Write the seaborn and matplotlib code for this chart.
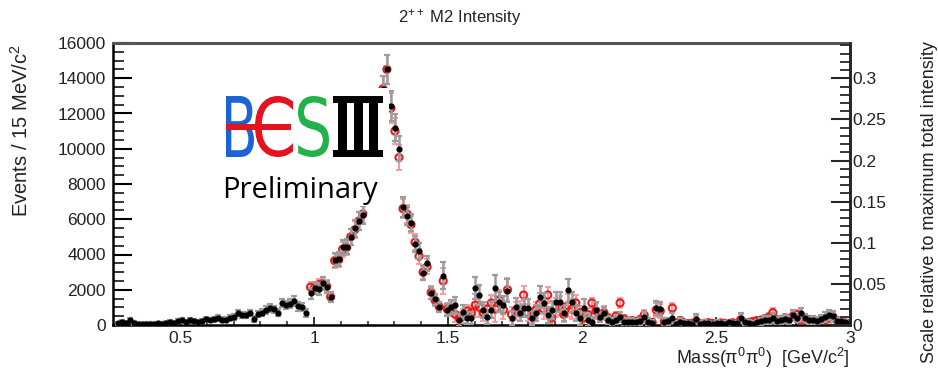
import numpy as np
import pandas as pd
import matplotlib
matplotlib.use("Agg")
import matplotlib.pyplot as plt
import seaborn as sns
from matplotlib.ticker import MultipleLocator, FixedLocator
from matplotlib.textpath import TextPath
from matplotlib.font_manager import FontProperties
from matplotlib.patches import PathPatch, Rectangle
from matplotlib.transforms import Affine2D, IdentityTransform

# ---------------- data ----------------
mass_start = 0.267   # GeV, centre of first bin
bin_width = 0.015    # GeV (15 MeV bins)

events_black = [
    90, 170, 130, 260, 110, 70, 50, 80, 60, 70,
    90, 60, 100, 170, 130, 230, 280, 180, 260, 220,
    160, 210, 340, 280, 330, 400, 310, 290, 420, 450,
    680, 570, 580, 680, 340, 620, 700, 850, 960, 880,
    700, 1250, 1130, 1200, 1360, 1050, 1000, 700, 1800, 2100,
    2050, 2400, 2150, 1600, 3700, 3750, 4400, 4450, 5000, 5500,
    5900, 6250, 7400, 8800, 10000, 11500, 13400, 14500, 12400, 11200,
    10000, 6700, 6200, 5800, 4600, 4200, 2950, 3500, 1800, 1450,
    1020, 2800, 850, 1020, 1130, 280, 740, 400, 400, 2100,
    1700, 850, 450, 850, 2100, 1300, 1130, 1950, 400, 1020,
    680, 960, 960, 400, 680, 1590, 1250, 570, 850, 1300,
    1300, 680, 1980, 1300, 680, 400, 960, 280, 170, 850,
    450, 680, 280, 170, 280, 450, 170, 170, 170, 150,
    200, 450, 170, 120, 960, 900, 170, 200, 400, 50,
    170, 130, 100, 60, 340, 80, 120, 100, 60, 120,
    90, 80, 150, 110, 100, 400, 170, 120, 80, 150,
    200, 280, 300, 400, 250, 300, 350, 300, 570, 400,
    680, 400, 280, 300, 250, 350, 450, 570, 500, 250,
    200, 150, 100,
]

err_black = [
    100, 110, 100, 120, 100, 90, 90, 90, 90, 90,
    90, 90, 100, 110, 100, 120, 120, 110, 120, 110,
    110, 120, 140, 130, 140, 150, 140, 140, 150, 160,
    180, 170, 170, 180, 160, 180, 190, 200, 220, 210,
    200, 250, 240, 250, 260, 240, 230, 220, 300, 330,
    320, 350, 330, 300, 400, 400, 420, 430, 450, 480,
    500, 520, 580, 620, 660, 700, 720, 800, 850, 750,
    700, 550, 500, 480, 450, 430, 380, 420, 350, 300,
    280, 750, 350, 400, 450, 350, 400, 350, 350, 650,
    550, 450, 400, 450, 750, 550, 500, 650, 400, 500,
    450, 500, 500, 400, 450, 600, 550, 450, 500, 550,
    550, 450, 650, 550, 450, 400, 500, 350, 300, 450,
    300, 350, 250, 200, 250, 300, 200, 200, 200, 180,
    200, 300, 200, 180, 400, 400, 200, 220, 300, 150,
    200, 180, 150, 130, 300, 130, 150, 140, 120, 150,
    130, 120, 150, 140, 130, 300, 180, 150, 130, 160,
    180, 220, 230, 260, 200, 220, 240, 220, 300, 250,
    300, 250, 200, 220, 200, 240, 260, 300, 280, 200,
    180, 150, 130,
]

# second solution: not visible below ~1 GeV (hidden under the black points)
N = np.nan
events_red = [
    N, N, N, N, N, N, N, N, N, N,
    N, N, N, N, N, N, N, N, N, N,
    N, N, N, N, N, N, N, N, N, N,
    N, N, N, N, N, N, N, N, N, N,
    N, N, N, N, N, N, N, N, 2150, 2100,
    2300, 2350, 2200, 1600, 3650, 3700, 4300, 4400, 5000, 5400,
    5900, 6300, 7400, 8800, 10000, 11500, 13400, 14500, 12300, 11000,
    9500, 6600, 6300, 5700, 4700, 3900, 3000, 3300, 1850, 1400,
    1050, 2500, 900, 900, 600, 400, 500, 800, 700, 1130,
    1000, 700, 900, 1250, 900, 1420, 850, 2000, 600, 800,
    900, 1700, 700, 500, 850, 1200, 900, 1700, 400, 1000,
    1100, 600, 1100, 900, 1250, 700, 400, 600, 1250, 800,
    500, 700, 400, 300, 500, 1250, 350, 200, 250, 200,
    300, 570, 200, 150, 850, 800, 200, 150, 960, 100,
    250, 120, 80, 100, 200, 60, 100, 130, 90, 80,
    120, 100, 90, 130, 80, 300, 30, 150, 200, 250,
    280, 350, 450, 700, 300, 200, 400, 350, 500, 600,
    250, 50, 300, 200, 250, 300, 280, 400, 450, 250,
    200, 120, 80,
]

err_red = err_black

x_ticks = [0.5, 1.0, 1.5, 2.0, 2.5, 3.0]
x_tick_labels = ["0.5", "1", "1.5", "2", "2.5", "3"]
y_ticks = [0, 2000, 4000, 6000, 8000, 10000, 12000, 14000, 16000]
y2_ticks = [0, 0.05, 0.1, 0.15, 0.2, 0.25, 0.3]
y2_tick_labels = ["0", "0.05", "0.1", "0.15", "0.2", "0.25", "0.3"]

mass = np.round(mass_start + bin_width * np.arange(len(events_black)), 4)
df = pd.DataFrame({"mass": mass, "black": events_black, "red": events_red,
                   "err_black": err_black, "err_red": err_red})
df_red = df.dropna(subset=["red"])

# ---------------- style ----------------
W, H, DPI = 938, 376, 100
sns.set_style("ticks")
plt.rcParams["font.family"] = ["Liberation Sans", "DejaVu Sans"]
plt.rcParams["mathtext.fontset"] = "custom"
plt.rcParams["mathtext.rm"] = "Liberation Sans"
plt.rcParams["mathtext.it"] = "Liberation Sans:italic"
plt.rcParams["mathtext.default"] = "regular"
TXT = "#222222"

fig = plt.figure(figsize=(W / DPI, H / DPI), dpi=DPI)
fig.patch.set_facecolor("white")
L, R, T, B = 113, 850, 43, 325
ax = fig.add_axes([L / W, 1 - B / H, (R - L) / W, (B - T) / H])

ax.errorbar(df_red["mass"], df_red["red"], yerr=df_red["err_red"], fmt="none",
            ecolor="#f29a9a", elinewidth=1.5, capsize=2.2, capthick=1.3, zorder=2)
sns.scatterplot(data=df_red, x="mass", y="red", ax=ax, marker="o", s=26,
                color="#f01818", facecolor="none", edgecolor="#f01818",
                linewidth=1.5, zorder=3, legend=False)
ax.errorbar(df["mass"], df["black"], yerr=df["err_black"], fmt="none",
            ecolor="#9c9c9c", elinewidth=1.8, capsize=2.2, capthick=1.6, zorder=4)
sns.scatterplot(data=df, x="mass", y="black", ax=ax, marker="o", s=20,
                color="black", linewidth=0, zorder=5, legend=False)

ax.set_xlim(0.25, 3.0)
ax.set_ylim(0, 16000)
ax.set_xlabel("")
ax.set_ylabel("")
ax.xaxis.set_major_locator(FixedLocator(x_ticks))
ax.set_xticklabels(x_tick_labels)
ax.xaxis.set_minor_locator(MultipleLocator(0.1))
ax.yaxis.set_major_locator(FixedLocator(y_ticks))
ax.yaxis.set_minor_locator(MultipleLocator(500))
ax.tick_params(axis="y", which="major", direction="in", length=14, width=1.5,
               labelsize=12.5, pad=5, colors="black", labelcolor=TXT)
ax.tick_params(axis="y", which="minor", direction="in", length=8, width=1.3)
ax.tick_params(axis="x", which="major", direction="in", length=6, width=1.3,
               labelsize=12.5, pad=4, labelcolor=TXT)
ax.tick_params(axis="x", which="minor", direction="in", length=3, width=1.1)
for s in ["left", "bottom", "right"]:
    ax.spines[s].set_linewidth(1.8)
    ax.spines[s].set_color("black")
ax.spines["top"].set_linewidth(2.2)
ax.spines["top"].set_color("#555555")

ax2 = ax.twinx()
ax2.set_ylim(0, 0.343)
ax2.yaxis.set_major_locator(FixedLocator(y2_ticks))
ax2.set_yticklabels(y2_tick_labels)
ax2.yaxis.set_minor_locator(MultipleLocator(0.01))
ax2.tick_params(axis="y", which="major", direction="in", length=14, width=1.5,
                labelsize=12.5, pad=2, labelcolor=TXT)
ax2.tick_params(axis="y", which="minor", direction="in", length=7, width=1.3)
for s in ["left", "top", "bottom"]:
    ax2.spines[s].set_visible(False)
ax2.spines["right"].set_linewidth(1.8)

# ---------------- texts ----------------
fig.text(460 / W, 1 - 17 / H, "2$^{++}$ M2 Intensity", ha="center", va="center",
         fontsize=12, color=TXT)
fig.text(21 / W, 1 - 131 / H, "Events / 15 MeV/c$^{2}$", rotation=90,
         ha="center", va="center", fontsize=14.5, color=TXT)
fig.text(929 / W, 1 - 202 / H, "Scale relative to maximum total intensity",
         rotation=90, ha="center", va="center", fontsize=13, color=TXT)
fig.text(850 / W, 1 - 358 / H, "Mass(\u03c0$^{0}$\u03c0$^{0}$)  [GeV/c$^{2}$]",
         ha="right", va="center", fontsize=13, color=TXT)

# ---------------- BESIII logo ----------------
fig.add_artist(Rectangle((210, H - 206), 179, 118, transform=IdentityTransform(),
                         fc="white", ec="none", zorder=9))


def glyph(s, x0, x1, ytop, ybot, color, prop):
    tp = TextPath((0, 0), s, size=100, prop=prop)
    bb = tp.get_extents()
    sx = (x1 - x0) / bb.width
    sy = (ybot - ytop) / bb.height
    tr = Affine2D().translate(-bb.x0, -bb.y0).scale(sx, sy).translate(x0, H - ybot)
    fig.add_artist(PathPatch(tp, transform=tr, fc=color, ec="none", zorder=10))


reg = FontProperties(family="DejaVu Sans", weight="normal")
glyph("B", 226, 254, 96, 157, "#1e63d6", reg)
glyph("C", 255, 293, 96, 157, "#e3141f", reg)
glyph("S", 298, 329, 96, 157, "#22b24a", reg)
fig.add_artist(Rectangle((226, H - 130), 65, 6, transform=IdentityTransform(),
                         fc="#e3141f", ec="none", zorder=11))
# Roman numeral III
for (x, y, w, h) in [(333, 96, 50, 7), (333, 150, 50, 7),
                     (338, 103, 9, 47), (353.5, 103, 9, 47), (369, 103, 9, 47)]:
    fig.add_artist(Rectangle((x, H - y - h), w, h, transform=IdentityTransform(),
                             fc="black", ec="none", zorder=10))
fig.text(222 / W, 1 - 198 / H, "Preliminary", ha="left", va="baseline",
         fontsize=21, family="Open Sans", color="black", zorder=11)

fig.savefig("out.png", dpi=DPI, facecolor="white")
